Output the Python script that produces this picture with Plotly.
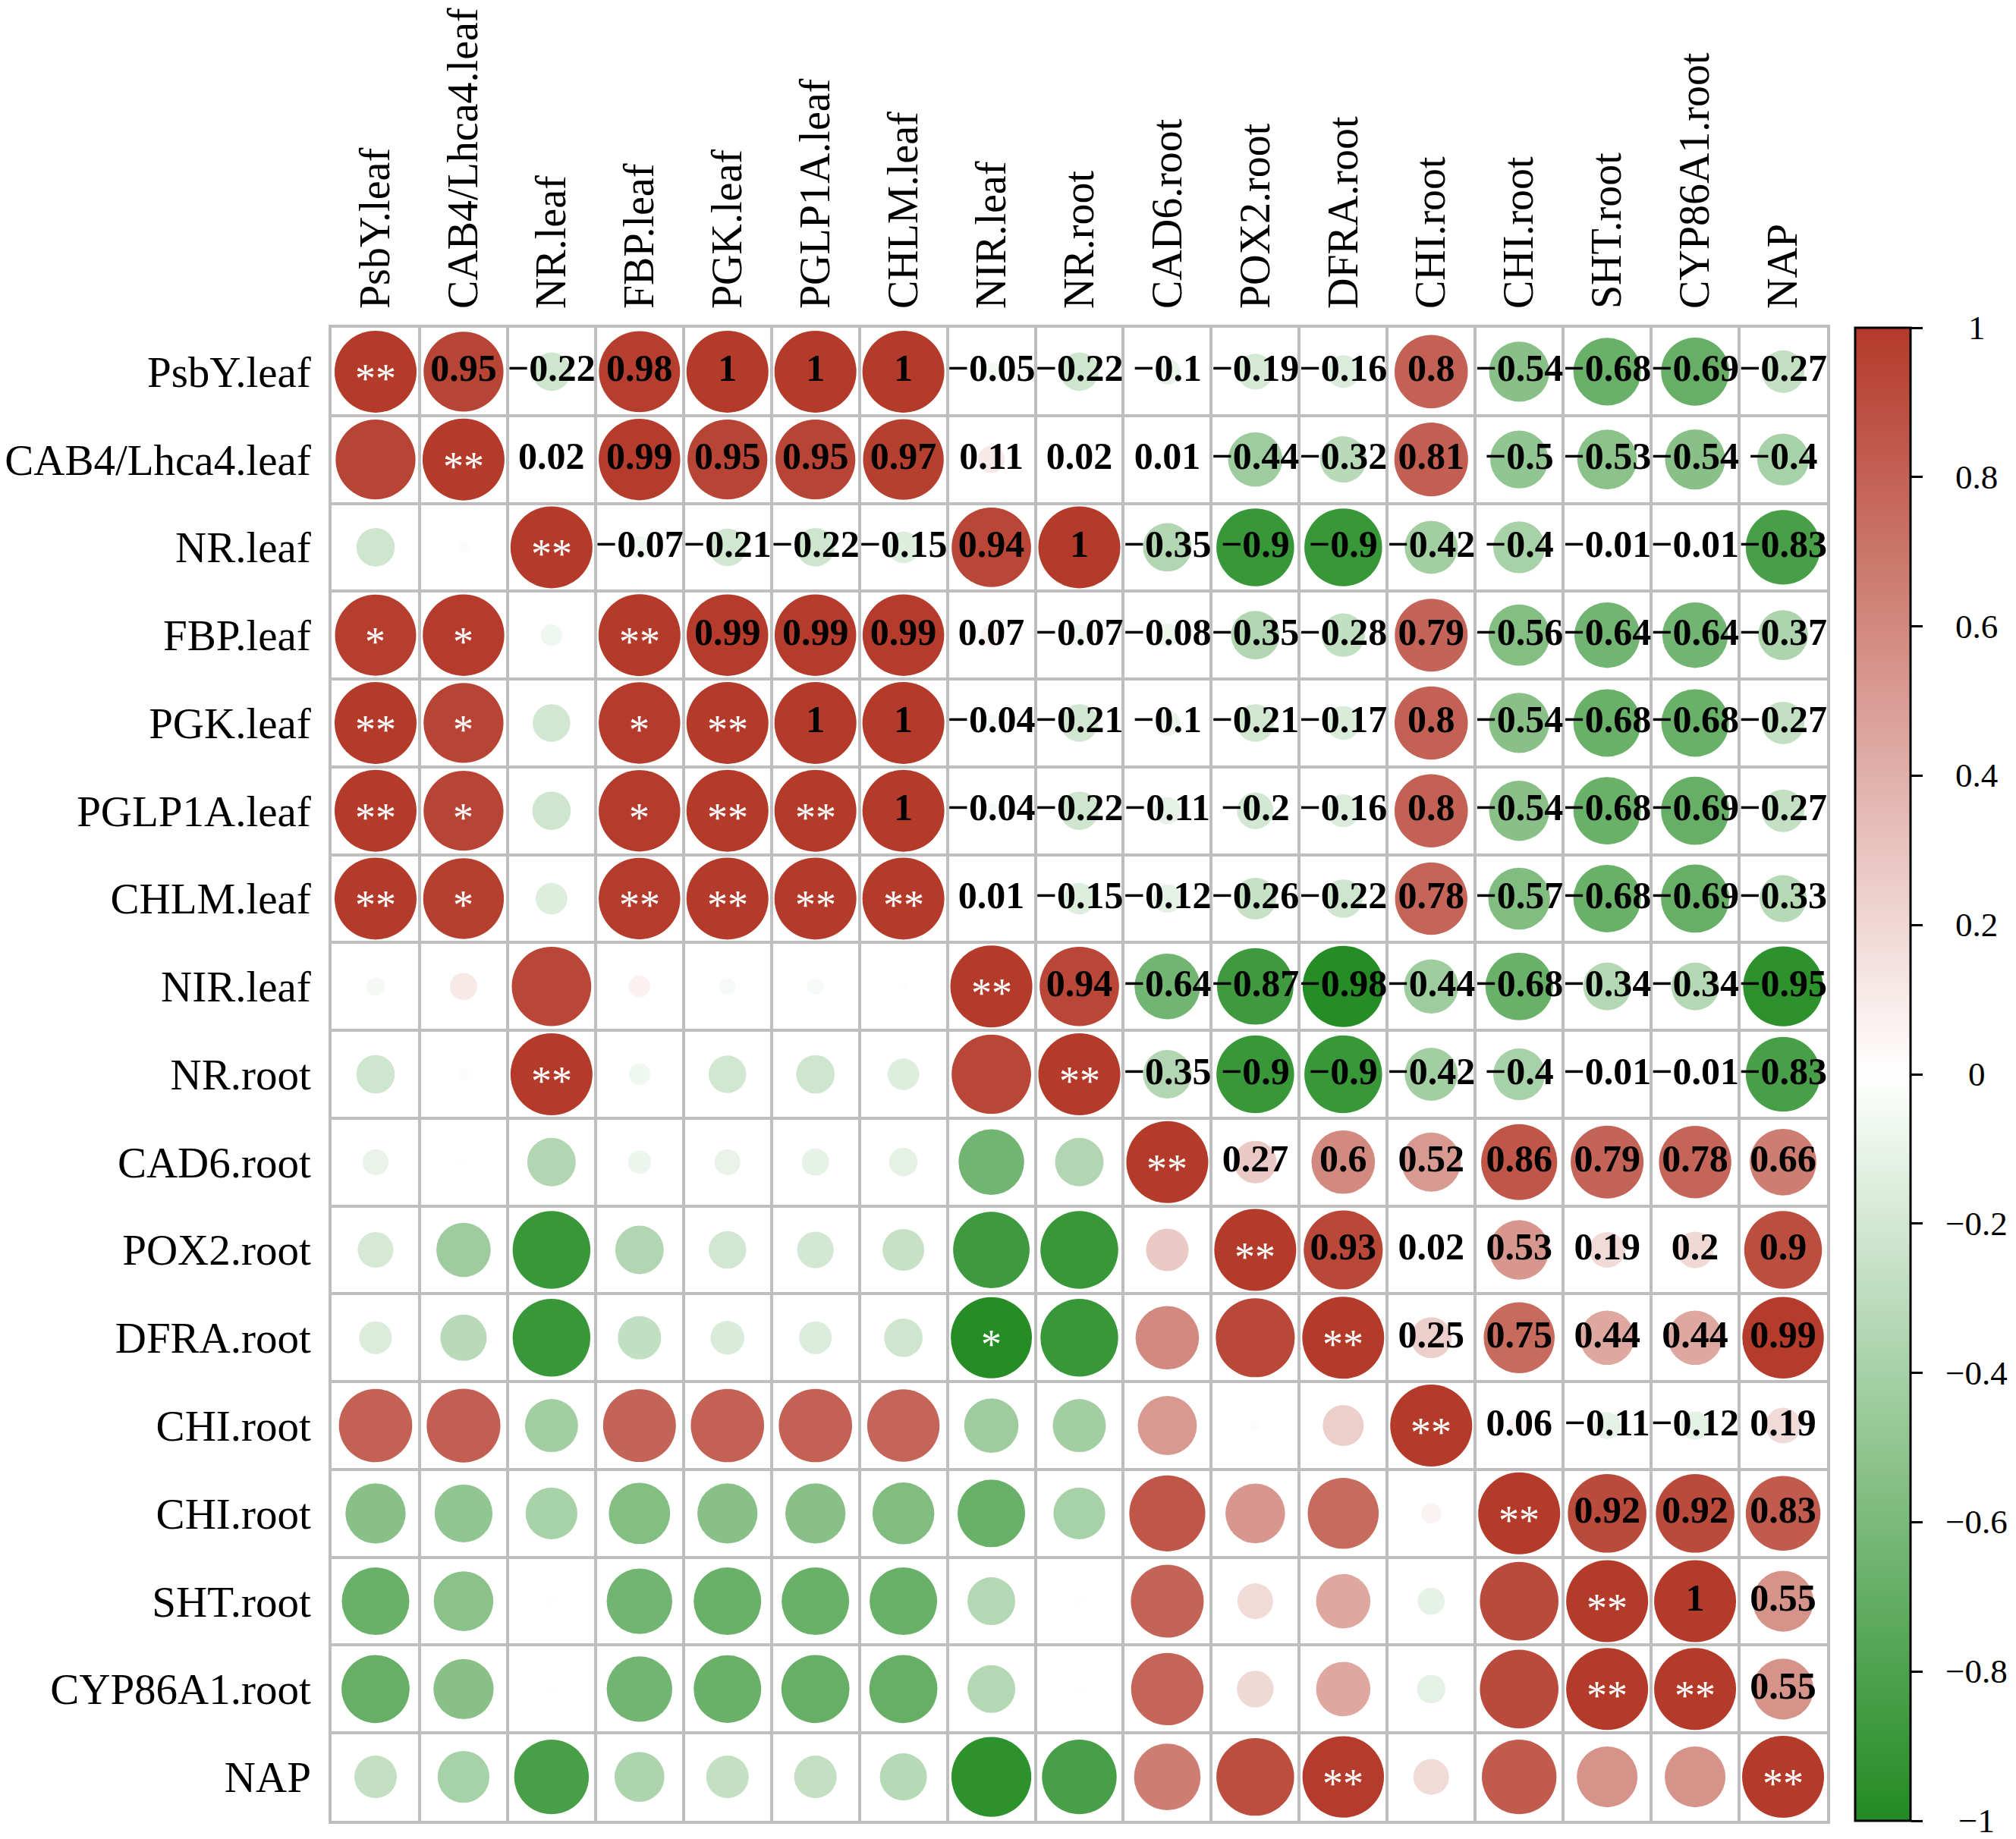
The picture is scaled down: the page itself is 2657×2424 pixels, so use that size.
import numpy as np
import plotly.graph_objects as go

labels = ["PsbY.leaf", "CAB4/Lhca4.leaf", "NR.leaf", "FBP.leaf", "PGK.leaf",
          "PGLP1A.leaf", "CHLM.leaf", "NIR.leaf", "NR.root", "CAD6.root",
          "POX2.root", "DFRA.root", "CHI.root", "CHI.root", "SHT.root",
          "CYP86A1.root", "NAP"]

# upper triangle, row by row (values right of the diagonal)
upper = [
    [0.95, -0.22, 0.98, 1, 1, 1, -0.05, -0.22, -0.1, -0.19, -0.16, 0.8, -0.54, -0.68, -0.69, -0.27],
    [0.02, 0.99, 0.95, 0.95, 0.97, 0.11, 0.02, 0.01, -0.44, -0.32, 0.81, -0.5, -0.53, -0.54, -0.4],
    [-0.07, -0.21, -0.22, -0.15, 0.94, 1, -0.35, -0.9, -0.9, -0.42, -0.4, -0.01, -0.01, -0.83],
    [0.99, 0.99, 0.99, 0.07, -0.07, -0.08, -0.35, -0.28, 0.79, -0.56, -0.64, -0.64, -0.37],
    [1, 1, -0.04, -0.21, -0.1, -0.21, -0.17, 0.8, -0.54, -0.68, -0.68, -0.27],
    [1, -0.04, -0.22, -0.11, -0.2, -0.16, 0.8, -0.54, -0.68, -0.69, -0.27],
    [0.01, -0.15, -0.12, -0.26, -0.22, 0.78, -0.57, -0.68, -0.69, -0.33],
    [0.94, -0.64, -0.87, -0.98, -0.44, -0.68, -0.34, -0.34, -0.95],
    [-0.35, -0.9, -0.9, -0.42, -0.4, -0.01, -0.01, -0.83],
    [0.27, 0.6, 0.52, 0.86, 0.79, 0.78, 0.66],
    [0.93, 0.02, 0.53, 0.19, 0.2, 0.9],
    [0.25, 0.75, 0.44, 0.44, 0.99],
    [0.06, -0.11, -0.12, 0.19],
    [0.92, 0.92, 0.83],
    [1, 0.55],
    [0.55],
    [],
]

# significance marks, lower triangle incl. diagonal, row by row
sig = [
    ["**"],
    ["", "**"],
    ["", "", "**"],
    ["*", "*", "", "**"],
    ["**", "*", "", "*", "**"],
    ["**", "*", "", "*", "**", "**"],
    ["**", "*", "", "**", "**", "**", "**"],
    ["", "", "", "", "", "", "", "**"],
    ["", "", "**", "", "", "", "", "", "**"],
    ["", "", "", "", "", "", "", "", "", "**"],
    ["", "", "", "", "", "", "", "", "", "", "**"],
    ["", "", "", "", "", "", "", "*", "", "", "", "**"],
    ["", "", "", "", "", "", "", "", "", "", "", "", "**"],
    ["", "", "", "", "", "", "", "", "", "", "", "", "", "**"],
    ["", "", "", "", "", "", "", "", "", "", "", "", "", "", "**"],
    ["", "", "", "", "", "", "", "", "", "", "", "", "", "", "**", "**"],
    ["", "", "", "", "", "", "", "", "", "", "", "**", "", "", "", "", "**"],
]

cbar_ticks = [1, 0.8, 0.6, 0.4, 0.2, 0, -0.2, -0.4, -0.6, -0.8, -1]

n = len(labels)
corr = np.eye(n)
for i, row in enumerate(upper):
    for k, v in enumerate(row):
        j = i + 1 + k
        corr[i, j] = v
        corr[j, i] = v

SERIF = "Liberation Serif"
GREEN = "rgb(34,139,34)"
RED = "rgb(180,58,42)"
colorscale = [[0, GREEN], [0.5, "white"], [1, RED]]

def fmt(v):
    return f"{v:g}".replace("-", "\u2212")

cx, cy, cv = [], [], []
for i in range(n):
    for j in range(n):
        cx.append(j)
        cy.append(i)
        cv.append(corr[i, j])
cv = np.array(cv)

fig = go.Figure()

fig.add_trace(go.Scatter(
    x=cx, y=cy, mode="markers", hoverinfo="skip",
    marker=dict(
        size=108 * np.sqrt(np.abs(cv)), color=cv, colorscale=colorscale,
        cmin=-1, cmax=1, line=dict(width=0), opacity=1,
        colorbar=dict(
            thickness=73, thicknessmode="pixels", len=1, lenmode="fraction",
            x=1.0188, xanchor="left", y=0.5, yanchor="middle",
            xpad=0, ypad=0, outlinewidth=3, outlinecolor="black",
            tickmode="array", tickvals=cbar_ticks, ticks="outside",
            ticklen=15, tickwidth=3, tickcolor="black", showticklabels=False,
        ),
    ),
    showlegend=False,
))

# numbers in the upper triangle
tx, ty, tt = [], [], []
for i, row in enumerate(upper):
    for k, v in enumerate(row):
        tx.append(i + 1 + k)
        ty.append(i)
        tt.append(fmt(v))
fig.add_trace(go.Scatter(
    x=tx, y=ty, text=tt, mode="text", hoverinfo="skip", showlegend=False,
    textfont=dict(family=SERIF, size=50, color="black", weight="bold"),
))

# stars in the lower triangle (annotations so they can sit on the centre)
for i, row in enumerate(sig):
    for j, s in enumerate(row):
        if s:
            fig.add_annotation(
                x=j, y=i, xref="x", yref="y", text=s, showarrow=False,
                xanchor="center", yanchor="middle", yshift=-9,
                font=dict(family=SERIF, size=54, color="white"),
            )

grid = dict(tick0=0.5, dtick=1, showgrid=True, gridcolor="#BEBEBE", gridwidth=3.5, ticks="")

fig.update_xaxes(
    range=[-0.5, n - 0.5], side="top", tickmode="array",
    tickvals=list(range(n)), ticktext=labels, tickangle=-90,
    tickfont=dict(family=SERIF, size=56, color="black"),
    showgrid=False, zeroline=False, ticks="", ticklabelstandoff=10,
    showline=True, mirror=True, linecolor="#BEBEBE", linewidth=3.5,
    minor=grid, automargin=False,
)
fig.update_yaxes(
    range=[n - 0.5, -0.5], tickmode="array",
    tickvals=list(range(n)), ticktext=labels,
    tickfont=dict(family=SERIF, size=57, color="black"),
    showgrid=False, zeroline=False, ticks="", ticklabelstandoff=12,
    showline=True, mirror=True, linecolor="#BEBEBE", linewidth=3.5,
    minor=grid, automargin=False,
)

# hidden axis carrying the colour bar labels
fig.update_layout(yaxis2=dict(range=[-1, 1], overlaying="y", visible=False))
for t in cbar_ticks:
    fig.add_annotation(
        x=1.1, xref="paper", y=t, yref="y2", text=fmt(t),
        showarrow=False, xanchor="center", yanchor="middle",
        font=dict(family=SERIF, size=45, color="black"),
    )

fig.update_layout(
    width=2657, height=2424, autosize=False,
    margin=dict(l=437, r=249, t=432, b=24),
    plot_bgcolor="white", paper_bgcolor="white",
)

fig.write_html("out.html", config={"displayModeBar": False},
               post_script="document.body.style.margin='0';document.body.style.overflow='hidden';")
